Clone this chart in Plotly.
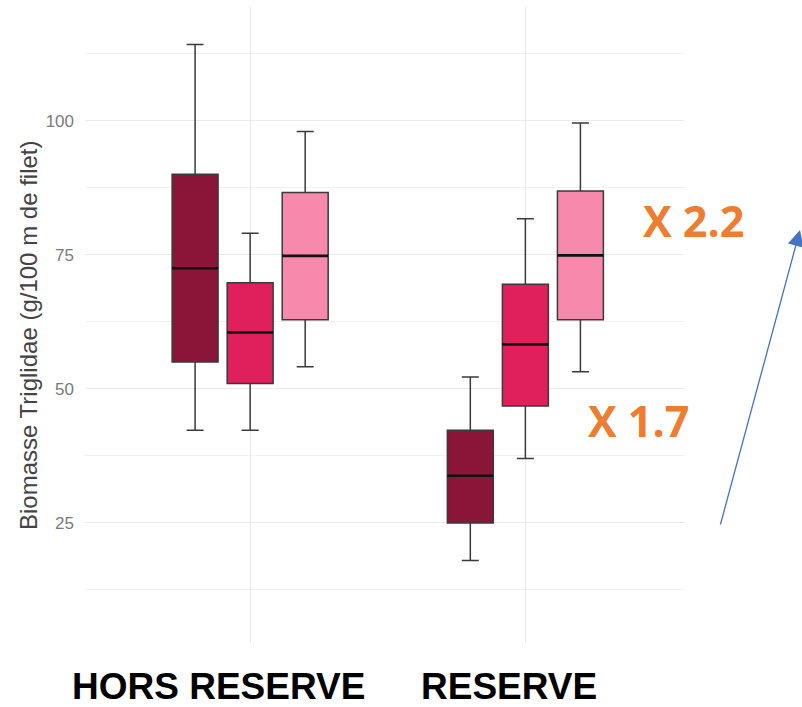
import plotly.graph_objects as go

categories = ["HORS RESERVE", "RESERVE"]
series_names = ["A", "B", "C"]
series_colors = ["#8A1538", "#E0205C", "#F789AC"]

# per series: values for [HORS RESERVE, RESERVE]
lowerfence = [[42.3, 18.0], [42.3, 37.0], [54.1, 53.2]]
q1 = [[55.0, 25.0], [51.0, 46.8], [62.9, 62.9]]
median = [[72.5, 33.8], [60.5, 58.3], [74.8, 74.9]]
q3 = [[90.0, 42.3], [69.8, 69.5], [86.6, 86.9]]
upperfence = [[114.2, 52.2], [79.0, 81.7], [98.0, 99.6]]

y_ticks = [25, 50, 75, 100]
y_minor = [12.5, 37.5, 62.5, 87.5, 112.5]

fig = go.Figure()
for i, name in enumerate(series_names):
    fig.add_trace(go.Box(
        x=categories,
        q1=q1[i], median=median[i], q3=q3[i],
        lowerfence=lowerfence[i], upperfence=upperfence[i],
        name=name, offsetgroup=name,
        fillcolor=series_colors[i],
        line=dict(color="#3A3A3A", width=1.5),
        whiskerwidth=0.37,
        boxpoints=False,
        showlegend=False,
        hoverinfo="skip",
    ))
# thicker black median lines, overlaid in the same slot as each series
for i, name in enumerate(series_names):
    fig.add_trace(go.Box(
        x=categories,
        q1=median[i], median=median[i], q3=median[i],
        lowerfence=median[i], upperfence=median[i],
        name=name + " median", offsetgroup=name,
        fillcolor="rgba(0,0,0,0)",
        line=dict(color="#111111", width=2.6),
        whiskerwidth=0,
        boxpoints=False,
        showlegend=False,
        hoverinfo="skip",
    ))

fig.update_layout(
    width=802, height=707,
    margin=dict(l=85, r=117, t=6, b=64),
    paper_bgcolor="white", plot_bgcolor="white",
    boxmode="group", boxgap=0.4, boxgroupgap=0.165,
    xaxis=dict(type="category", range=[-0.6, 1.58], showticklabels=False,
               showgrid=True, gridcolor="#EBEBEB", gridwidth=1, zeroline=False,
               showline=False, ticks=""),
    yaxis=dict(range=[2.6, 121.4], tickvals=y_ticks, showgrid=True,
               gridcolor="#EBEBEB", gridwidth=1, zeroline=False, showline=False,
               ticks="", ticklabelstandoff=10,
               tickfont=dict(family="Liberation Sans, Arial, sans-serif", size=17, color="#7A7A7A"),
               minor=dict(tickvals=y_minor, showgrid=True, gridcolor="#F1F1F1", gridwidth=1)),
    font=dict(family="Liberation Sans, Arial, sans-serif"),
)

cat_font = dict(family="Liberation Sans, Arial, sans-serif", size=37, color="black")
fig.add_annotation(text="<b>HORS RESERVE</b>", xref="paper", yref="paper", x=0.2217, y=-0.069,
                   xanchor="center", yanchor="middle", showarrow=False, font=cat_font)
fig.add_annotation(text="<b>RESERVE</b>", xref="paper", yref="paper", x=0.707, y=-0.069,
                   xanchor="center", yanchor="middle", showarrow=False, font=cat_font)

fig.add_annotation(text="Biomasse Triglidae (g/100 m de filet)", xref="paper", yref="paper",
                   x=-0.095, y=0.4835, textangle=-90, xanchor="center", yanchor="middle",
                   showarrow=False,
                   font=dict(family="Liberation Sans, Arial, sans-serif", size=24, color="#444444"))

orange_font = dict(family="Open Sans, Lato, sans-serif", size=43, color="#ED7D31")
fig.add_annotation(text="<b>X 2.2</b>", xref="paper", yref="paper", x=1.015, y=0.664,
                   xanchor="center", yanchor="middle", showarrow=False, font=orange_font)
fig.add_annotation(text="<b>X 1.7</b>", xref="paper", yref="paper", x=0.923, y=0.350,
                   xanchor="center", yanchor="middle", showarrow=False, font=orange_font)

fig.add_annotation(text="", xref="paper", yref="paper", x=1.1917, y=0.6484,
                   ax=-80, ay=296, axref="pixel", ayref="pixel",
                   showarrow=True, arrowhead=2, arrowsize=2.5, arrowwidth=1.3,
                   arrowcolor="#4472C4")

fig.write_html("out.html", config={"displayModeBar": False},
               post_script="document.body.style.margin='0';document.body.style.overflow='hidden';")
